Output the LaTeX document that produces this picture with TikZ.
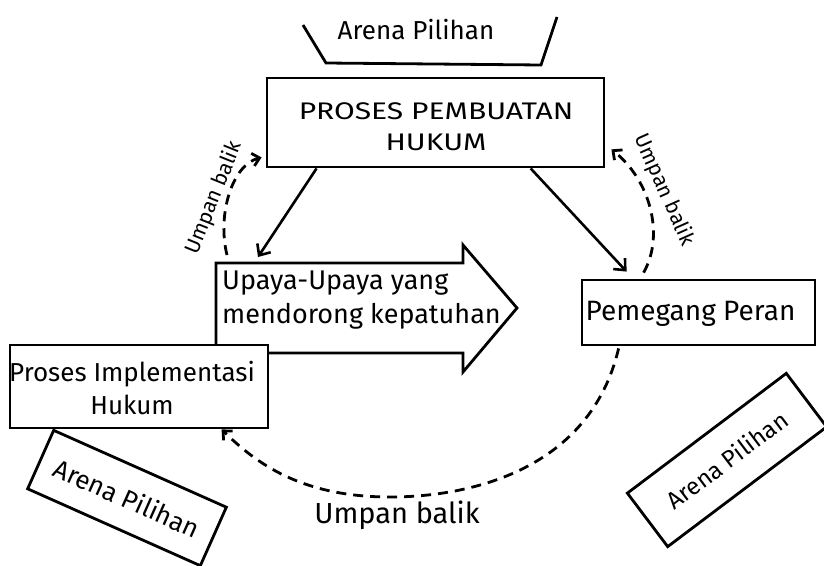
\documentclass[tikz,border=0pt]{standalone}
\usepackage{fontspec}
\setmainfont{Fira Sans}
\usetikzlibrary{arrows.meta,calc}
\begin{document}
\begin{tikzpicture}[x=1pt,y=-1pt,
  box/.style={draw, line width=2.8pt, fill=white, inner sep=0pt},
  lbl/.style={inner sep=0pt, align=center},
  solidarrow/.style={line width=2.6pt, -{Straight Barb[length=9pt,width=16pt]}},
  feedback/.style={line width=2.8pt, dash pattern=on 10pt off 7pt, -{Straight Barb[length=7pt,width=13pt]}}
]
\useasboundingbox (0,0) rectangle (824,565);

% top Arena Pilihan (open trapezoid)
\coordinate (t1) at (303,25);
\coordinate (t2) at (326,63);
\coordinate (t3) at (541,65);
\coordinate (t4) at (557,17);
\draw[line width=2.8pt] (t1) -- (t2) -- (t3) -- (t4);
\node[lbl, font=\fontsize{26}{30}\selectfont] (arenaT) at (416,30) {Arena Pilihan};

% main box
\node[box, minimum width=337pt, minimum height=89pt] (proses) at (435.5,122.5) {};
\node[lbl, font=\fontsize{24}{31}\selectfont] (prosesT) at (436,127) {\scalebox{1.25}[1]{PROSES PEMBUATAN}\\\scalebox{1.25}[1]{HUKUM}};

% big arrow
\coordinate (uTL) at (216,263);
\coordinate (uTR) at (463,263);
\coordinate (uHT) at (463,245);
\coordinate (uTip) at (517,308);
\coordinate (uHB) at (463,372);
\coordinate (uBR) at (463,353);
\coordinate (uBL) at (216,353);
\draw[line width=2.8pt, line join=miter] (uTL) -- (uTR) -- (uHT) -- (uTip) -- (uHB) -- (uBR) -- (uBL) -- cycle;
\node[lbl, align=left, anchor=west, font=\fontsize{27}{34}\selectfont] (upaya) at (222,300) {Upaya-Upaya yang\\mendorong kepatuhan};

% Pemegang Peran
\node[box, minimum width=233pt, minimum height=65pt] (pem) at (698.5,312.5) {};
\node[lbl, font=\fontsize{28}{30}\selectfont] (pemT) at (690.5,314) {Pemegang Peran};

% Proses Implementasi Hukum
\node[box, minimum width=258pt, minimum height=83pt] (impl) at (139,386.5) {};
\node[lbl, font=\fontsize{26}{33}\selectfont] (implT) at (132,388) {Proses Implementasi\\Hukum};

% rotated Arena Pilihan boxes
\node[box, minimum width=189pt, minimum height=64pt, rotate=-24, font=\fontsize{26}{30}\selectfont] (arenaL) at (127,498) {Arena Pilihan};
\node[box, minimum width=199pt, minimum height=67pt, rotate=37, font=\fontsize{24}{30}\selectfont] (arenaR) at (727,460) {Arena Pilihan};

% solid arrows
\draw[solidarrow] ($(proses.south west)!0.15!(proses.south east)$) -- ($(uTL)+(42,-6)$);
\draw[solidarrow] ($(proses.south west)!0.78!(proses.south east)$) -- ($(pem.north west)+(46,-7)$);

% feedback curves
\draw[feedback] ($(uTL)+(11,-8)$) .. controls (217,215) and (232,165) .. ($(proses.south west)+(-4,-11)$);
\node[lbl, rotate=68, font=\fontsize{21}{22}\selectfont] (fbL) at (214,198) {Umpan balik};

\draw[feedback] ($(pem.north west)+(63,-6)$) .. controls (665,235) and (650,180) .. ($(proses.south east)+(6,-19)$);
\node[lbl, rotate=-66, font=\fontsize{21}{22}\selectfont] (fbR) at (664,190) {Umpan balik};

\draw[feedback] ($(pem.south west)+(38,2)$) .. controls (590,470) and (470,497) .. (390,497) .. controls (300,497) and (255,462) .. ($(impl.south west)+(213,0)$);
\node[lbl, font=\fontsize{29}{30}\selectfont] (fbB) at (397,515) {Umpan balik};
\end{tikzpicture}
\end{document}
